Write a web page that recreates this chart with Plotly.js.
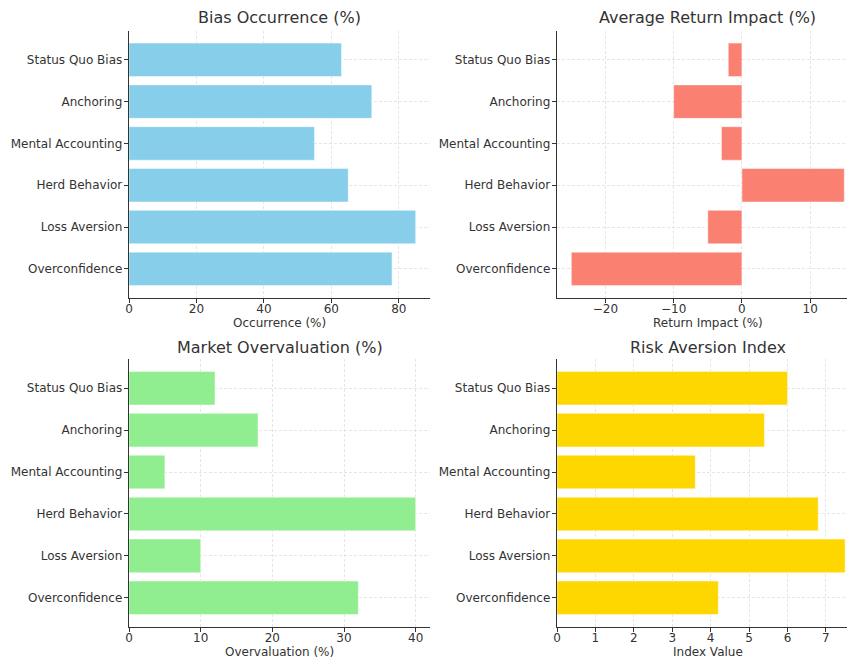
<!DOCTYPE html>
<html>
<head>
<meta charset="utf-8">
<script src="https://cdn.plot.ly/plotly-3.0.1.min.js"></script>
<style>html,body{margin:0;padding:0;background:#fff;}#chart{width:847px;height:660px;}</style>
</head>
<body>
<div id="chart"></div>
<script>
const biases = ['Overconfidence', 'Loss Aversion', 'Herd Behavior', 'Mental Accounting', 'Anchoring', 'Status Quo Bias'];
const occurrence = [78, 85, 65, 55, 72, 63];
const returnImpact = [-25, -5, 15, -3, -10, -2];
const overvaluation = [32, 10, 40, 5, 18, 12];
const riskAversion = [4.2, 7.5, 6.8, 3.6, 5.4, 6.0];

const titles = ['Bias Occurrence (%)', 'Average Return Impact (%)', 'Market Overvaluation (%)', 'Risk Aversion Index'];
const xTitles = ['Occurrence (%)', 'Return Impact (%)', 'Overvaluation (%)', 'Index Value'];
const colors = ['#87CEEB', '#FA8072', '#90EE90', '#FFD700'];
const series = [occurrence, returnImpact, overvaluation, riskAversion];

const W = 847, H = 660;
const colDom = [[129 / W, 430 / W], [557 / W, 1]];
const rowDom = [[1 - 297.7 / H, 1 - 31 / H], [1 - 626.7 / H, 1 - 359.3 / H]];
const xRanges = [[0, 89.25], [-27.1, 15.4], [0, 42], [0, 7.55]];
const xTicks = [[0, 20, 40, 60, 80], [-20, -10, 0, 10], [0, 10, 20, 30, 40], [0, 1, 2, 3, 4, 5, 6, 7]];
const titleCenterX = [279.5, 707.5, 279.5, 707.5];
const xTitleY = [322.7, 651.7];

const textColor = '#333333';
const font = {family: 'DejaVu Sans', size: 12, color: textColor};

const data = [];
const layout = {
  width: W, height: H,
  margin: {l: 0, r: 0, t: 0, b: 0},
  paper_bgcolor: '#ffffff', plot_bgcolor: '#ffffff',
  showlegend: false,
  font: font,
  annotations: []
};

for (let i = 0; i < 4; i++) {
  const r = Math.floor(i / 2), c = i % 2;
  const sfx = i === 0 ? '' : String(i + 1);
  data.push({
    type: 'bar', orientation: 'h',
    y: biases, x: series[i],
    xaxis: 'x' + sfx, yaxis: 'y' + sfx,
    width: 0.8,
    marker: {color: colors[i], line: {width: 1, color: 'rgba(255,255,255,0.45)'}},
    hoverinfo: 'x+y'
  });
  const common = {
    showline: true, linecolor: '#333333', linewidth: 1.3,
    ticks: 'outside', ticklen: 4, tickcolor: '#333333', tickwidth: 1,
    showgrid: true, gridcolor: '#e0e0e0', griddash: '3px,2px', gridwidth: 0.8,
    zeroline: false,
    tickfont: font,
    fixedrange: true
  };
  layout['xaxis' + sfx] = Object.assign({}, common, {
    domain: colDom[c], anchor: 'y' + sfx,
    range: xRanges[i], tickmode: 'array', tickvals: xTicks[i],
    ticklabelstandoff: -4
  });
  layout['yaxis' + sfx] = Object.assign({}, common, {
    domain: rowDom[r], anchor: 'x' + sfx,
    type: 'category', categoryorder: 'array', categoryarray: biases,
    range: [-0.69, 5.69],
    ticklabelstandoff: -1
  });
  layout.annotations.push({
    text: titles[i], xref: 'paper', yref: 'paper',
    x: titleCenterX[i] / W, y: 1 - (r === 0 ? 18 : 347) / H,
    yanchor: 'middle', xanchor: 'center',
    showarrow: false,
    font: {family: 'DejaVu Sans', size: 16, color: textColor}
  });
  layout.annotations.push({
    text: xTitles[i], xref: 'paper', yref: 'paper',
    x: titleCenterX[i] / W, y: 1 - xTitleY[r] / H,
    yanchor: 'middle', xanchor: 'center',
    showarrow: false,
    font: font
  });
}

Plotly.newPlot('chart', data, layout, {displayModeBar: false, staticPlot: true});
</script>
</body>
</html>
